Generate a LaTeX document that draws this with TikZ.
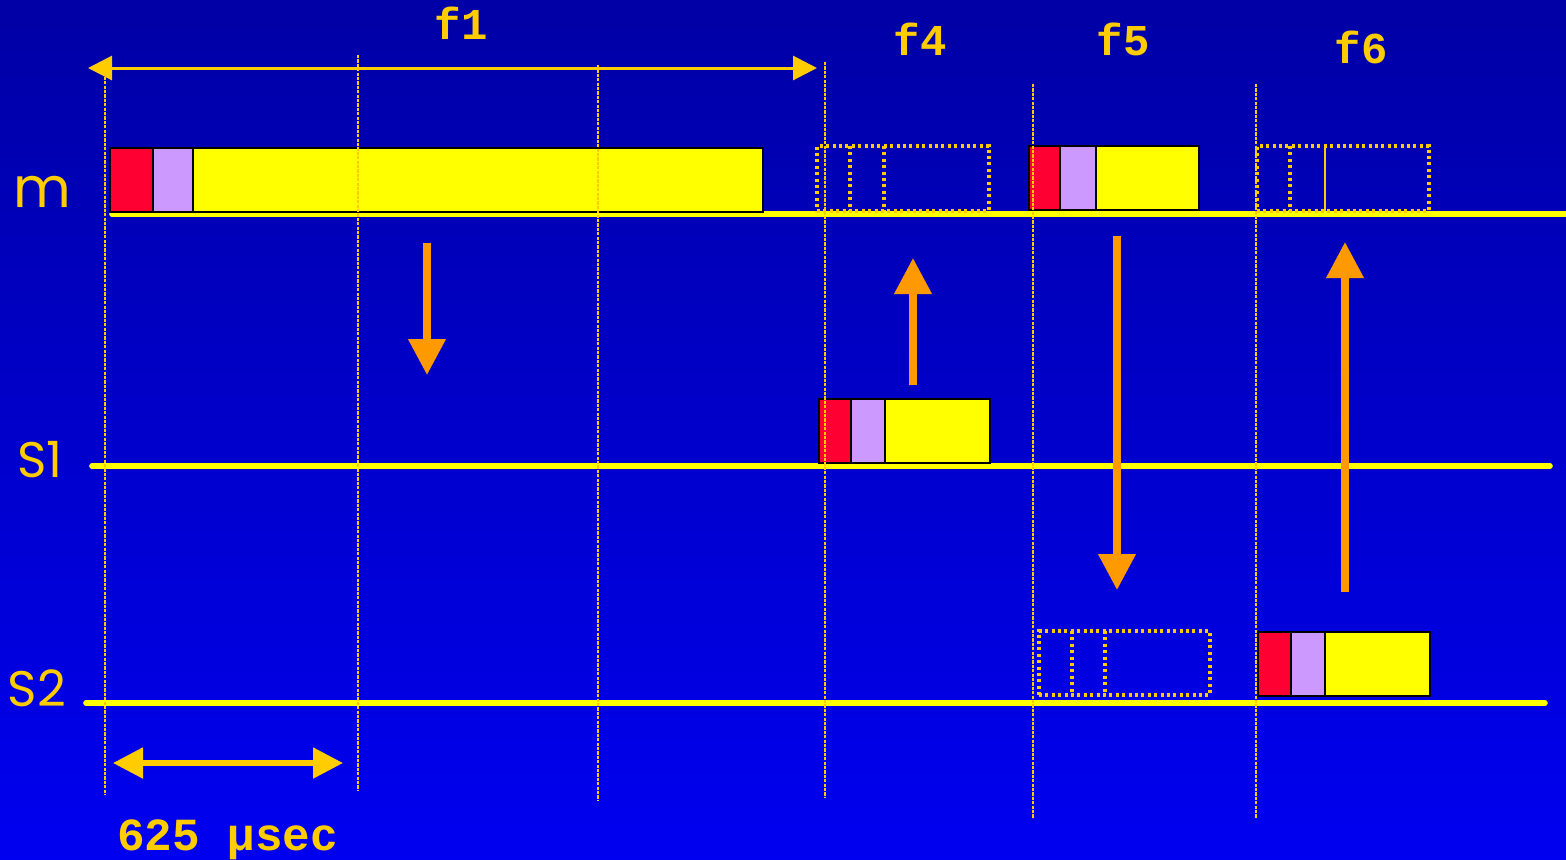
\documentclass[tikz,border=0pt]{standalone}
\usepackage{fontspec}
\setsansfont{Poppins}
\setmonofont{Liberation Mono}
\usetikzlibrary{arrows.meta,fit}

\definecolor{bgtop}{RGB}{0,0,165}
\definecolor{bgbot}{RGB}{0,0,240}
\definecolor{gold}{RGB}{255,204,0}
\definecolor{lineyel}{RGB}{255,255,0}
\definecolor{arrorange}{RGB}{255,153,0}
\definecolor{hdrred}{RGB}{255,0,51}
\definecolor{acclav}{RGB}{204,153,255}

\tikzset{
  slotline/.style={draw=gold, line width=1.4pt, dash pattern=on 1.6pt off 0.6pt},
  timeline/.style={draw=lineyel, line width=2.8pt, line cap=round},
  hdr/.style={draw=black, line width=1pt, fill=hdrred, inner sep=0pt},
  acc/.style={draw=black, line width=1pt, fill=acclav, inner sep=0pt},
  pay/.style={draw=black, line width=1pt, fill=lineyel, inner sep=0pt},
  ghost/.style={draw=gold, line width=1.7pt, dash pattern=on 1.5pt off 1.7pt, inner sep=0pt},
  hop/.style={draw=arrorange, line width=3.6pt, -{Triangle[length=18pt,width=18pt]}},
  station/.style={text=gold, font=\sffamily, anchor=base},
  hoplabel/.style={text=gold, font=\ttfamily\bfseries\fontsize{22}{22}\selectfont, anchor=base}
}

\begin{document}
\begin{tikzpicture}[x=0.5pt, y=-0.5pt]
\useasboundingbox (0,0) rectangle (1566,859);
\fill[top color=bgtop, bottom color=bgbot] (0,0) rectangle (1566,859);

% stations
\node[station, font=\sffamily\fontsize{28}{28}\selectfont] (lblm) at (42,207) {m};
\node[station, font=\sffamily\fontsize{25}{25}\selectfont] (lbls1) at (40,477) {S1};
\node[station, font=\sffamily\fontsize{25}{25}\selectfont] (lbls2) at (37,706) {S2};

\coordinate (mA) at (112,214);  \coordinate (mB) at (1566,214);
\coordinate (sA) at (92,466);   \coordinate (sB) at (1550,466);
\coordinate (tA) at (86,703);   \coordinate (tB) at (1545,703);
\draw[timeline] (mA) -- (mB);
\draw[timeline] (sA) -- (sB);
\draw[timeline] (tA) -- (tB);

% packets
\node (p1h) [hdr, fit={(110,148) (153,212)}] {};
\node (p1a) [acc, fit={(153,148) (193,212)}] {};
\node (p1p) [pay, fit={(193,148) (763,212)}] {};

\node (p4h) [hdr, fit={(819,399) (851,463)}] {};
\node (p4a) [acc, fit={(851,399) (885,463)}] {};
\node (p4p) [pay, fit={(885,399) (990,463)}] {};

\node (p5h) [hdr, fit={(1029,146) (1060,210)}] {};
\node (p5a) [acc, fit={(1060,146) (1096,210)}] {};
\node (p5p) [pay, fit={(1096,146) (1199,210)}] {};

\node (p6h) [hdr, fit={(1258,632) (1291,696)}] {};
\node (p6a) [acc, fit={(1291,632) (1325,696)}] {};
\node (p6p) [pay, fit={(1325,632) (1430,696)}] {};

% empty slots
\node (g4) [ghost, fit={(817,146) (989,211)}] {};
\draw[ghost] (850,146) -- (850,211);
\draw[ghost] (884,146) -- (884,211);
\node (g5) [ghost, fit={(1039,631) (1210,695)}] {};
\draw[ghost] (1072,631) -- (1072,695);
\draw[ghost] (1105,631) -- (1105,695);
\node (g6) [ghost, fit={(1257,146) (1429,211)}] {};
\draw[ghost] (1290,146) -- (1290,211);
\draw[draw=gold, line width=1.2pt] (1325,146) -- (1325,211);

% hops
\coordinate (h1a) at (427,243);  \coordinate (h1b) at (427,375);
\coordinate (h4a) at (913,385);  \coordinate (h4b) at (913,258);
\coordinate (h5a) at (1117,236); \coordinate (h5b) at (1117,590);
\coordinate (h6a) at (1345,592); \coordinate (h6b) at (1345,242);
\draw[hop] (h1a) -- (h1b);
\draw[hop] (h4a) -- (h4b);
\draw[hop] (h5a) -- (h5b);
\draw[hop] (h6a) -- (h6b);

% frame span
\coordinate (fA) at (88,68); \coordinate (fB) at (817,68);
\draw[draw=gold, line width=1.5pt, {Triangle[length=12pt,width=12pt]}-{Triangle[length=12pt,width=12pt]}] (fA) -- (fB);
\node[hoplabel] (f1) at (461,39) {f1};
\node[hoplabel] (f4) at (920,55) {f4};
\node[hoplabel] (f5) at (1123,55) {f5};
\node[hoplabel] (f6) at (1361,63) {f6};

% slot length
\coordinate (dA) at (113,763); \coordinate (dB) at (343,763);
\draw[draw=gold, line width=2.6pt, {Triangle[length=15pt,width=15pt]}-{Triangle[length=15pt,width=15pt]}] (dA) -- (dB);
\node[hoplabel, font=\ttfamily\bfseries\fontsize{23}{23}\selectfont, anchor=base west] (dur) at (110,850) {625 µsec};

% slot boundaries
\foreach \x/\ya/\yb in {105/68/795, 358/55/790, 598/65/800, 825/62/798, 1033/84/818, 1256/84/818}
  \draw[slotline] (\x,\ya) -- (\x,\yb);
\end{tikzpicture}
\end{document}
